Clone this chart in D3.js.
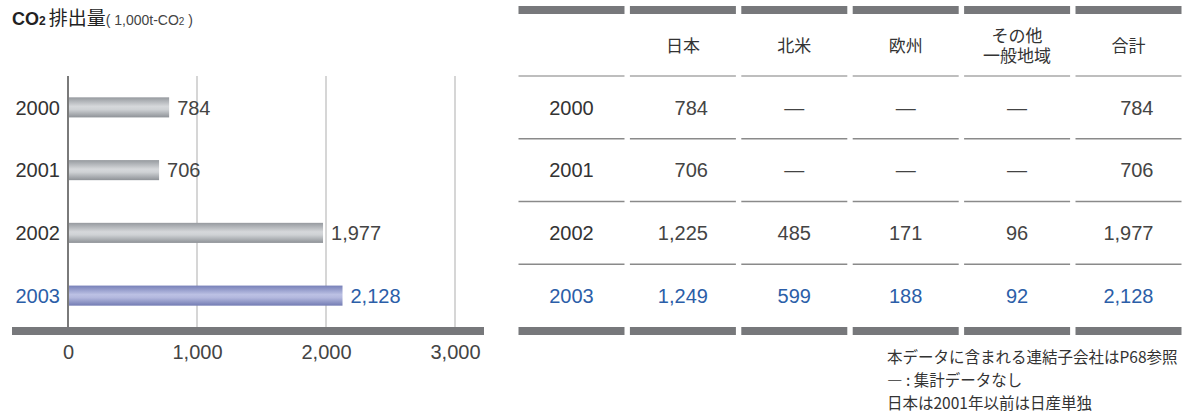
<!DOCTYPE html>
<html lang="ja">
<head>
<meta charset="utf-8">
<script src="https://cdn.jsdelivr.net/npm/d3@7"></script>
<style>
  html, body { margin: 0; padding: 0; background: #fff; }
  svg { display: block; font-family: "Liberation Sans", "Noto Sans CJK JP", sans-serif; }
</style>
</head>
<body>
<svg id="chart" width="1183" height="419"></svg>
<script>
// CO2 emissions by fiscal year (1,000 t-CO2)
const years = ["2000", "2001", "2002", "2003"];
const totals = [784, 706, 1977, 2128];
const xTicks = [0, 1000, 2000, 3000];

// Regional breakdown (null = no aggregated data)
const columnHeads = ["", "日本", "北米", "欧州", "その他\n一般地域", "合計"];
const japan = [784, 706, 1225, 1249];
const northAmerica = [null, null, 485, 599];
const europe = [null, null, 171, 188];
const otherRegions = [null, null, 96, 92];

const notes = [
  "本データに含まれる連結子会社はP68参照",
  "— : 集計データなし",
  "日本は2001年以前は日産単独"
];

const highlightYear = "2003";
const textColor = "#333";
const blue = "#2b5ea8";
const barGray = "#77787b";
const numSize = 20;

const svg = d3.select("#chart");
const fmt = d3.format(",");

// gradients for the cylinder-like bars
const defs = svg.append("defs");
function gradient(id, stops) {
  const g = defs.append("linearGradient").attr("id", id)
    .attr("x1", 0).attr("y1", 0).attr("x2", 0).attr("y2", 1);
  stops.forEach(([o, c]) => g.append("stop").attr("offset", o).attr("stop-color", c));
}
gradient("gGray", [[0, "#969a9f"], [0.45, "#d6d8db"], [0.6, "#cfd2d5"], [1, "#8e9297"]]);
gradient("gBlue", [[0, "#7780b8"], [0.45, "#bcc1e4"], [0.6, "#b3b8de"], [1, "#737cb3"]]);

// ---------- title ----------
const title = svg.append("text").attr("x", 12).attr("y", 25).attr("fill", "#222");
title.append("tspan").attr("font-weight", "bold").attr("font-size", 18).text("CO");
title.append("tspan").attr("font-weight", "bold").attr("font-size", 12).text("2");
title.append("tspan").attr("font-size", 19).attr("dx", 3)
  .attr("font-family", "Noto Sans CJK JP, sans-serif").text("排出量");
title.append("tspan").attr("font-size", 14).attr("fill", "#444").text("( 1,000t-CO");
title.append("tspan").attr("font-size", 10).attr("fill", "#444").text("2");
title.append("tspan").attr("font-size", 14).attr("fill", "#444").text(" )");

// ---------- bar chart ----------
const x = d3.scaleLinear().domain([0, 3000]).range([68, 455]);
const y = d3.scaleBand().domain(years).range([76, 327]);
const barH = y.bandwidth() * 0.32;
const plotTop = 76, plotBottom = 327;

// grid lines
svg.append("g").selectAll("line").data(xTicks.filter(d => d > 0)).join("line")
  .attr("x1", d => x(d)).attr("x2", d => x(d))
  .attr("y1", plotTop).attr("y2", plotBottom)
  .attr("stroke", "#c9c9c9").attr("stroke-width", 1.5);

// zero line
svg.append("line")
  .attr("x1", x(0)).attr("x2", x(0)).attr("y1", plotTop).attr("y2", plotBottom)
  .attr("stroke", "#7a7a7a").attr("stroke-width", 2);

// bars
svg.append("g").selectAll("rect").data(years).join("rect")
  .attr("x", x(0) + 1)
  .attr("y", d => y(d) + y.bandwidth() / 2 - barH / 2)
  .attr("width", (d, i) => x(totals[i]) - x(0) - 1)
  .attr("height", barH)
  .attr("fill", d => d === highlightYear ? "url(#gBlue)" : "url(#gGray)");

// value labels
svg.append("g").selectAll("text").data(years).join("text")
  .attr("x", (d, i) => x(totals[i]) + 8)
  .attr("y", d => y(d) + y.bandwidth() / 2)
  .attr("dy", "0.36em")
  .attr("font-size", numSize)
  .attr("fill", d => d === highlightYear ? blue : "#444")
  .text((d, i) => fmt(totals[i]));

// year labels
svg.append("g").selectAll("text").data(years).join("text")
  .attr("x", 60)
  .attr("y", d => y(d) + y.bandwidth() / 2)
  .attr("dy", "0.36em")
  .attr("text-anchor", "end")
  .attr("font-size", numSize)
  .attr("fill", d => d === highlightYear ? blue : textColor)
  .text(d => d);

// thick base bar
svg.append("rect").attr("x", 12).attr("y", plotBottom).attr("width", 472).attr("height", 8)
  .attr("fill", barGray);

// x axis tick labels
const xAxis = svg.append("g").attr("transform", `translate(0,${plotBottom + 8})`)
  .call(d3.axisBottom(x).tickValues(xTicks).tickFormat(fmt).tickSize(0).tickPadding(10));
xAxis.select(".domain").remove();
xAxis.selectAll("text").attr("font-size", numSize).attr("fill", "#444")
  .attr("font-family", "Liberation Sans, sans-serif");

// ---------- table ----------
const cols = d3.scaleBand().domain(columnHeads).range([518.5, 1181.5]).paddingInner(0.0485);
const cw = cols.bandwidth();

// top and bottom thick bars
svg.append("g").selectAll("rect").data(columnHeads).join("rect")
  .attr("x", d => cols(d)).attr("y", 6).attr("width", cw).attr("height", 8)
  .attr("fill", barGray);
svg.append("g").selectAll("rect").data(columnHeads).join("rect")
  .attr("x", d => cols(d)).attr("y", plotBottom).attr("width", cw).attr("height", 8)
  .attr("fill", barGray);

// header underline and row separators
const separators = [{ y: 76, c: "#a9a9a9" }].concat(
  years.slice(0, -1).map(yr => ({ y: y(yr) + y.bandwidth(), c: "#8a8a8a" }))
);
separators.forEach(s => {
  svg.append("g").selectAll("line").data(columnHeads).join("line")
    .attr("x1", d => cols(d)).attr("x2", d => cols(d) + cw)
    .attr("y1", s.y).attr("y2", s.y)
    .attr("stroke", s.c).attr("stroke-width", 1.3);
});

// column headers (one text element per line)
columnHeads.slice(1).forEach(h => {
  const lines = h.split("\n");
  lines.forEach((ln, i) => {
    svg.append("text")
      .attr("x", cols(h) + cw / 2)
      .attr("y", 46 + (i - (lines.length - 1) / 2) * 20)
      .attr("dy", "0.36em")
      .attr("text-anchor", "middle")
      .attr("font-size", 17)
      .attr("fill", textColor)
      .attr("font-family", "Noto Sans CJK JP, sans-serif")
      .text(ln);
  });
});

// table body
const tableCols = [
  { key: columnHeads[1], values: japan, align: "end" },
  { key: columnHeads[2], values: northAmerica, align: "middle" },
  { key: columnHeads[3], values: europe, align: "middle" },
  { key: columnHeads[4], values: otherRegions, align: "middle" },
  { key: columnHeads[5], values: totals, align: "end" }
];
const rowY = d => y(d) + y.bandwidth() / 2;

svg.append("g").selectAll("text").data(years).join("text")
  .attr("x", cols("") + cw / 2).attr("y", rowY).attr("dy", "0.36em")
  .attr("text-anchor", "middle").attr("font-size", numSize)
  .attr("fill", d => d === highlightYear ? blue : textColor)
  .text(d => d);

tableCols.forEach(col => {
  const cx = col.align === "end" ? cols(col.key) + cw - 28 : cols(col.key) + cw / 2;
  svg.append("g").selectAll("text").data(years).join("text")
    .attr("x", cx).attr("y", rowY).attr("dy", "0.36em")
    .attr("text-anchor", col.align).attr("font-size", numSize)
    .attr("fill", d => d === highlightYear ? blue : "#444")
    .text((d, i) => col.values[i] == null ? "—" : fmt(col.values[i]));
});

// notes
svg.append("g").selectAll("text").data(notes).join("text")
  .attr("x", 887).attr("y", (d, i) => 357 + i * 23).attr("dy", "0.36em")
  .attr("font-size", 15.5).attr("fill", textColor)
  .attr("font-family", "Noto Sans CJK JP, sans-serif")
  .text(d => d);
</script>
</body>
</html>
